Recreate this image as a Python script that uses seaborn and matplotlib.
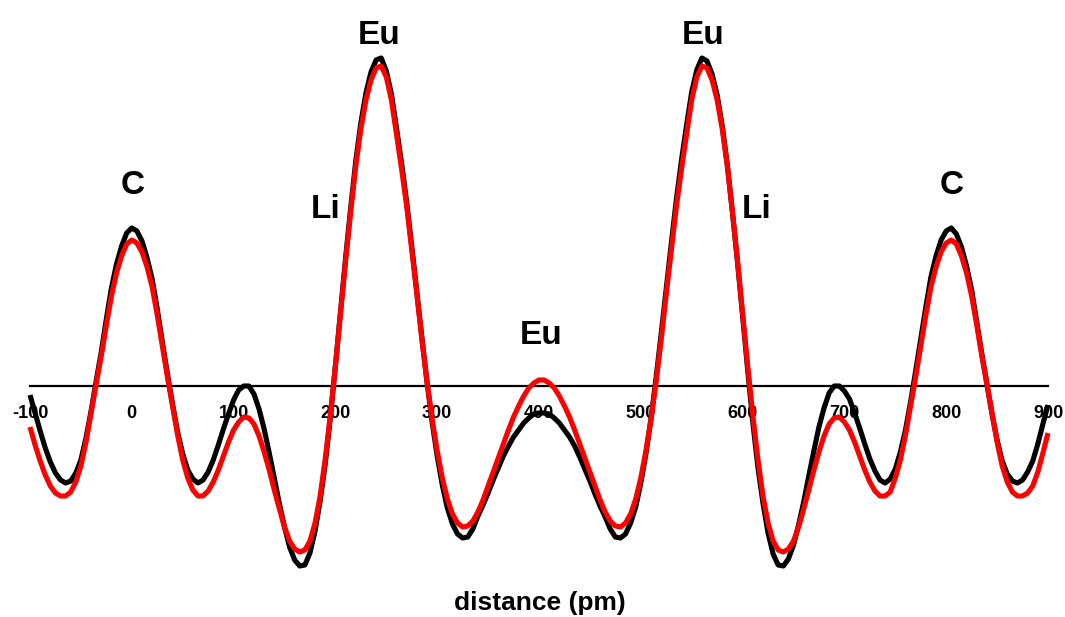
import matplotlib
matplotlib.use("Agg")
import matplotlib.pyplot as plt
import numpy as np
import pandas as pd
import seaborn as sns

# ---------------- data ----------------
distance = list(range(-100, 901, 5))

black_density = [
    -9, -27, -45, -62, -76, -87, -94, -97, -95, -87,
    -74, -52, -25, 5, 34, 67, 98, 122, 140, 153,
    158, 155, 145, 128, 107, 77, 44, 12, -18, -46,
    -68, -84, -93, -97, -94, -86, -74, -59, -43, -28,
    -14, -4, 0, 0, -8, -23, -43, -67, -92, -118,
    -141, -161, -174, -180, -179, -167, -145, -115, -78, -32,
    20, 74, 128, 178, 225, 263, 293, 314, 326, 328,
    315, 292, 258, 223, 184, 140, 94, 48, 4, -36,
    -70, -99, -122, -138, -148, -152, -151, -143, -130, -119,
    -107, -94, -82, -70, -60, -51, -44, -37, -32, -28,
    -27, -27, -28, -32, -37, -44, -51, -60, -71, -83,
    -95, -108, -120, -131, -143, -151, -152, -148, -137, -121,
    -97, -68, -33, 8, 52, 98, 143, 187, 226, 261,
    294, 316, 328, 325, 312, 291, 260, 221, 174, 124,
    70, 16, -36, -81, -117, -147, -168, -179, -180, -173,
    -159, -139, -116, -90, -65, -41, -22, -7, 0, 0,
    -5, -13, -27, -42, -58, -73, -85, -94, -97, -93,
    -83, -66, -44, -16, 15, 47, 79, 109, 130, 146,
    155, 158, 152, 139, 120, 96, 64, 32, 2, -28,
    -54, -75, -88, -95, -97, -94, -86, -75, -58, -38,
    -19,
]

red_density = [
    -41, -59, -75, -89, -100, -107, -110, -110, -106, -96,
    -80, -56, -27, 2, 30, 61, 90, 113, 130, 142,
    146, 143, 134, 119, 99, 71, 40, 9, -20, -49,
    -74, -92, -104, -110, -110, -105, -96, -84, -70, -56,
    -44, -36, -31, -32, -38, -50, -66, -84, -104, -123,
    -141, -155, -163, -166, -164, -155, -137, -110, -73, -29,
    20, 72, 125, 174, 220, 257, 286, 306, 318, 320,
    309, 286, 252, 217, 180, 136, 92, 46, 4, -33,
    -65, -92, -113, -128, -137, -141, -140, -135, -126, -114,
    -100, -86, -72, -58, -44, -31, -20, -10, -2, 3,
    6, 6, 3, -2, -10, -20, -31, -44, -58, -72,
    -86, -100, -114, -126, -135, -140, -141, -137, -128, -113,
    -92, -65, -33, 4, 46, 92, 136, 180, 217, 252,
    286, 309, 320, 318, 306, 286, 257, 220, 174, 125,
    72, 20, -29, -73, -110, -137, -155, -164, -166, -163,
    -155, -141, -123, -104, -84, -66, -50, -38, -32, -31,
    -36, -44, -56, -70, -84, -96, -105, -110, -110, -106,
    -92, -74, -49, -20, 9, 40, 71, 99, 119, 134,
    143, 146, 142, 130, 113, 90, 61, 30, 2, -27,
    -56, -80, -96, -106, -110, -110, -107, -100, -86, -67,
    -47,
]

tick_values = list(range(-100, 901, 100))
atom_labels = ["C", "Li", "Eu", "Eu", "Eu", "Li", "C"]
atom_x = [1, 190, 243, 402, 561, 614, 805]
atom_y = [200, 177, 350, 50, 350, 177, 200]
x_label = "distance (pm)"

# ---------------- plot ----------------
sns.set_style("white")
plt.rcParams["font.family"] = ["Liberation Sans", "DejaVu Sans"]
plt.rcParams["font.weight"] = "bold"

df = pd.DataFrame({
    "distance": distance * 2,
    "density": black_density + red_density,
    "series": ["black"] * len(distance) + ["red"] * len(distance),
})

W, H = 1065, 617
fig = plt.figure(figsize=(W / 100, H / 100), dpi=100)
ax = fig.add_axes([30 / W, 0, 1018 / W, 1])

sns.lineplot(data=df, x="distance", y="density", hue="series",
             palette={"black": "black", "red": "red"},
             linewidth=3.7, legend=False, ax=ax, sort=False)
for ln in ax.lines:
    ln.set_zorder(3)
    ln.set_clip_on(False)
    ln.set_solid_joinstyle("round")
    ln.set_solid_capstyle("butt")

ax.set_xlim(-100, 900)
ax.set_ylim(386 - H, 386)

for s in ["top", "left", "right"]:
    ax.spines[s].set_visible(False)
ax.spines["bottom"].set_position(("data", 0))
ax.spines["bottom"].set_linewidth(1.6)
ax.spines["bottom"].set_color("black")

ax.set_yticks([])
ax.set_xticks(tick_values)
ax.set_xticklabels([str(v) for v in tick_values], fontweight="bold")
ax.tick_params(axis="x", direction="out", length=5, width=1.5,
               labelsize=13, pad=9, colors="black")
ax.set_xlabel("")
ax.set_ylabel("")

for lab, xx, yy in zip(atom_labels, atom_x, atom_y):
    ax.text(xx, yy, lab, ha="center", va="center", fontsize=24,
            fontweight="bold", color="black", zorder=4)

fig.text(540 / W, 1 - 603 / H, x_label, ha="center", va="center",
         fontsize=19, fontweight="bold", color="black")

fig.savefig("out.png", dpi=100, facecolor="white")
